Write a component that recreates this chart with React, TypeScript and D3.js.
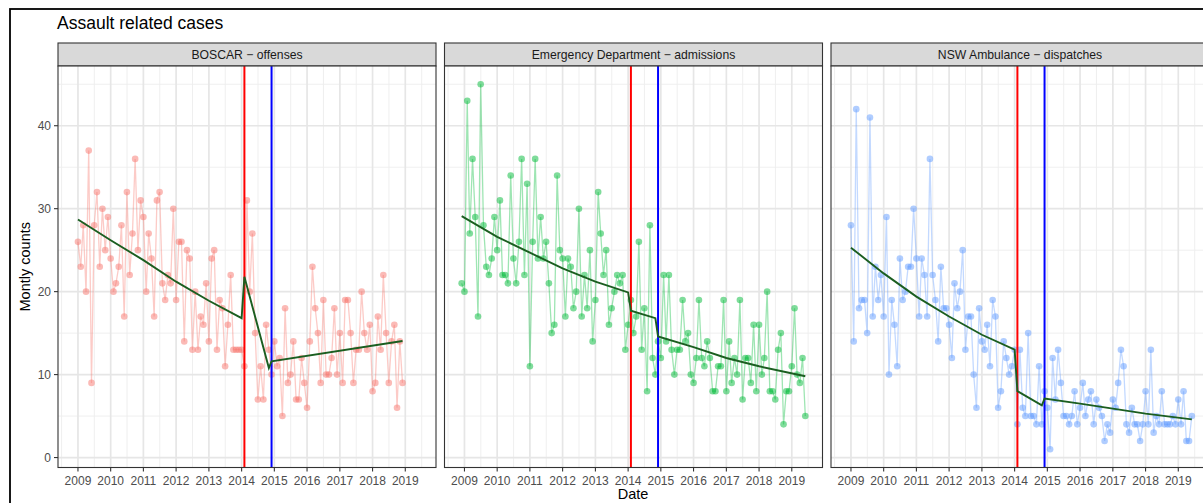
import React from "react";
import * as d3 from "d3";

// Axis labels
const yearLabels = ["2009", "2010", "2011", "2012", "2013", "2014", "2015", "2016", "2017", "2018", "2019"];
const countTicks = [0, 10, 20, 30, 40];

// Facet titles and series colours
const facetTitles = [
  "BOSCAR \u2212 offenses",
  "Emergency Department \u2212 admissions",
  "NSW Ambulance \u2212 dispatches",
];
const facetColours = ["#F8766D", "#00BA38", "#619CFF"];

// Monthly counts, one value per month from the first month given
const boscarFirstMonth = "2009-01";
const boscarCounts = [
  26, 23, 28, 20, 37, 9, 28, 32, 23, 30, 25, 29,
  24, 20, 21, 23, 28, 17, 32, 22, 27, 36, 25, 31,
  29, 20, 27, 24, 17, 31, 32, 21, 19, 22, 21, 30,
  19, 26, 26, 14, 25, 24, 13, 20, 13, 17, 16, 21,
  14, 24, 25, 13, 19, 18, 11, 16, 22, 13, 13, 13,
  13, 11, 31, 20, 27, 15, 7, 11, 7, 16, 13, 10,
  14, 11, 12, 5, 18, 9, 10, 14, 7, 7, 12, 9,
  6, 14, 23, 18, 15, 9, 19, 10, 10, 12, 18, 10,
  15, 9, 19, 19, 15, 9, 13, 13, 20, 15, 13, 16,
  8, 9, 17, 13, 22, 15, 9, 14, 16, 6, 14, 9,
];

const edFirstMonth = "2008-12";
const edCounts = [
  21,
  20, 43, 27, 36, 29, 17, 45, 28, 23, 22, 24, 29,
  25, 31, 22, 22, 21, 34, 24, 21, 26, 36, 22, 33,
  11, 26, 36, 24, 29, 24, 26, 21, 15, 16, 34, 25,
  24, 17, 24, 23, 18, 20, 30, 17, 22, 18, 25, 14,
  19, 32, 27, 22, 25, 16, 18, 20, 22, 21, 22, 13,
  16, 19, 15, 17, 26, 13, 18, 8, 28, 12, 10, 14,
  12, 22, 14, 22, 13, 10, 13, 13, 19, 14, 15, 10,
  9, 12, 19, 12, 11, 14, 12, 8, 8, 11, 11, 19,
  8, 14, 9, 12, 10, 19, 7, 12, 12, 9, 16, 8,
  16, 10, 12, 20, 8, 8, 7, 13, 15, 4, 8, 8,
  11, 18, 10, 9, 12, 5,
];

const nswFirstMonth = "2009-01";
const nswCounts = [
  28, 14, 42, 18, 19, 19, 15, 41, 17, 23, 19, 22,
  17, 29, 10, 19, 16, 11, 24, 19, 20, 23, 23, 30,
  24, 17, 24, 22, 17, 36, 22, 19, 14, 23, 18, 18,
  16, 12, 21, 18, 20, 25, 13, 17, 17, 10, 6, 18,
  14, 13, 16, 11, 19, 17, 6, 8, 14, 12, 10, 11,
  13, 4, 13, 6, 5, 15, 5, 5, 4, 11, 4, 8,
  6, 1, 12, 7, 13, 9, 5, 5, 4, 5, 8, 4,
  6, 9, 5, 7, 8, 4, 7, 6, 5, 2, 4, 3,
  7, 6, 9, 13, 11, 4, 3, 6, 4, 4, 2, 4,
  8, 4, 13, 3, 5, 4, 8, 4, 4, 4, 5, 4,
  7, 4, 8, 2, 2, 5,
];

// Fitted segmented trends (month, fitted count)
const boscarTrend: [string, number][] = [
  ["2009-01", 28.7], ["2010-01", 26.2], ["2011-01", 23.8], ["2012-01", 21.2],
  ["2013-01", 18.9], ["2014-01", 16.8], ["2014-02", 21.8], ["2014-11", 10.8],
  ["2014-12", 11.6], ["2018-12", 14.05],
];
const edTrend: [string, number][] = [
  ["2008-12", 29.1], ["2010-01", 26.6], ["2011-01", 24.7], ["2012-01", 22.8],
  ["2013-01", 21.2], ["2014-01", 19.9], ["2014-02", 17.7], ["2014-11", 16.8],
  ["2014-12", 14.6], ["2016-01", 13.3], ["2017-01", 12.0], ["2018-01", 11.0],
  ["2019-06", 9.8],
];
const nswTrend: [string, number][] = [
  ["2009-01", 25.3], ["2010-01", 22.2], ["2011-01", 19.4], ["2012-01", 17.0],
  ["2013-01", 14.8], ["2014-01", 13.0], ["2014-02", 8.0], ["2014-11", 6.3],
  ["2014-12", 7.1], ["2016-01", 6.5], ["2017-01", 5.9], ["2018-01", 5.3],
  ["2019-06", 4.6],
];

// Intervention dates
const lockoutStart = "2014-02";
const lockoutChange = "2014-12";

const parseMonth = d3.utcParse("%Y-%m")!;

type Pt = { date: Date; value: number };

function monthly(first: string, counts: number[]): Pt[] {
  const d0 = parseMonth(first)!;
  return counts.map((v, i) => ({ date: d3.utcMonth.offset(d0, i), value: v }));
}

const FONT = "'Liberation Sans', Arial, Helvetica, sans-serif";

export default function App() {
  const W = 1203;
  const H = 503;
  const panelW = 378;
  const panelLefts = [58, 444.5, 831];
  const panelTop = 66;
  const panelBottom = 467.5;
  const stripTop = 43;

  const series = [
    monthly(boscarFirstMonth, boscarCounts),
    monthly(edFirstMonth, edCounts),
    monthly(nswFirstMonth, nswCounts),
  ];
  const trends = [boscarTrend, edTrend, nswTrend].map((t) =>
    t.map(([m, v]) => ({ date: parseMonth(m)!, value: v }))
  );

  const all = series.flat();
  const [dMin, dMax] = d3.extent(all, (d) => d.date) as [Date, Date];
  const span = +dMax - +dMin;
  const [vMin, vMax] = d3.extent(all, (d) => d.value) as [number, number];
  const vPad = (vMax - vMin) * 0.05;

  const xBase = d3
    .scaleUtc()
    .domain([new Date(+dMin - span * 0.05), new Date(+dMax + span * 0.05)])
    .range([0, panelW]);
  const y = d3.scaleLinear().domain([vMin - vPad, vMax + vPad]).range([panelBottom, panelTop]);

  const yearDates = yearLabels.map((yr) => d3.utcParse("%Y")(yr)!);
  const xMinor: Date[] = [];
  for (let yr = 2008; yr <= 2020; yr++) {
    const a = +d3.utcParse("%Y")(String(yr))!;
    const b = +d3.utcParse("%Y")(String(yr + 1))!;
    const m = new Date((a + b) / 2);
    if (m >= xBase.domain()[0] && m <= xBase.domain()[1]) xMinor.push(m);
  }
  const yMinor = countTicks
    .map((t) => t + 5)
    .concat([countTicks[0] - 5])
    .filter((v) => v >= y.domain()[0] && v <= y.domain()[1]);

  const line = d3
    .line<Pt>()
    .x((d) => xBase(d.date))
    .y((d) => y(d.value));

  const redX = xBase(parseMonth(lockoutStart)!);
  const blueX = xBase(parseMonth(lockoutChange)!);

  return (
    <div style={{ position: "absolute", left: 0, top: 0, width: W, height: H, overflow: "hidden", background: "#fff" }}>
      <svg width={W} height={H} style={{ display: "block", fontFamily: FONT }}>
        <rect x={0} y={0} width={W} height={H} fill="#ffffff" />
        {/* frame around the figure */}
        <rect x={10} y={9} width={W + 40} height={H + 40} fill="none" stroke="#000" strokeWidth={1.8} />
        <text x={57} y={29} fontSize={17.5} fill="#000">
          Assault related cases
        </text>

        {series.map((pts, k) => {
          const left = panelLefts[k];
          const colour = facetColours[k];
          return (
            <g key={k} transform={`translate(${left},0)`}>
              {/* strip */}
              <rect
                x={0}
                y={stripTop}
                width={panelW}
                height={panelTop - stripTop}
                fill="#D9D9D9"
                stroke="#333333"
                strokeWidth={1.1}
              />
              <text
                x={panelW / 2}
                y={(stripTop + panelTop) / 2 + 4.3}
                textAnchor="middle"
                fontSize={12.2}
                fill="#1A1A1A"
              >
                {facetTitles[k]}
              </text>

              {/* panel background and grid */}
              <rect x={0} y={panelTop} width={panelW} height={panelBottom - panelTop} fill="#fff" />
              {yMinor.map((v) => (
                <line key={"ym" + v} x1={0} x2={panelW} y1={y(v)} y2={y(v)} stroke="#EDEDED" strokeWidth={0.9} />
              ))}
              {xMinor.map((d, i) => (
                <line key={"xm" + i} x1={xBase(d)} x2={xBase(d)} y1={panelTop} y2={panelBottom} stroke="#EDEDED" strokeWidth={0.9} />
              ))}
              {countTicks.map((v) => (
                <line key={"yM" + v} x1={0} x2={panelW} y1={y(v)} y2={y(v)} stroke="#E6E6E6" strokeWidth={1.7} />
              ))}
              {yearDates.map((d, i) => (
                <line key={"xM" + i} x1={xBase(d)} x2={xBase(d)} y1={panelTop} y2={panelBottom} stroke="#E6E6E6" strokeWidth={1.7} />
              ))}

              {/* observed monthly counts */}
              <path d={line(pts) ?? ""} fill="none" stroke={colour} strokeOpacity={0.38} strokeWidth={1.3} />
              {pts.map((p, i) => (
                <circle key={i} cx={xBase(p.date)} cy={y(p.value)} r={3.3} fill={colour} fillOpacity={0.5} />
              ))}

              {/* intervention dates */}
              <line x1={redX} x2={redX} y1={panelTop} y2={panelBottom} stroke="#FF0000" strokeWidth={2} />
              <line x1={blueX} x2={blueX} y1={panelTop} y2={panelBottom} stroke="#0000FF" strokeWidth={2} />

              {/* fitted trend */}
              <path d={line(trends[k]) ?? ""} fill="none" stroke="#1B5E20" strokeWidth={1.9} />

              {/* panel border */}
              <rect x={0} y={panelTop} width={panelW} height={panelBottom - panelTop} fill="none" stroke="#333333" strokeWidth={1.1} />

              {/* x axis */}
              {yearDates.map((d, i) => (
                <g key={"xt" + i} transform={`translate(${xBase(d)},${panelBottom})`}>
                  <line y1={0} y2={4} stroke="#333333" strokeWidth={1.1} />
                  <text y={17} textAnchor="middle" fontSize={12} fill="#4D4D4D">
                    {yearLabels[i]}
                  </text>
                </g>
              ))}

              {/* y axis on the first facet only */}
              {k === 0 &&
                countTicks.map((v) => (
                  <g key={"yt" + v} transform={`translate(0,${y(v)})`}>
                    <line x1={-4} x2={0} stroke="#333333" strokeWidth={1.1} />
                    <text x={-7} y={4.2} textAnchor="end" fontSize={12} fill="#4D4D4D">
                      {v}
                    </text>
                  </g>
                ))}
            </g>
          );
        })}

        {/* axis titles */}
        <text x={633} y={499} textAnchor="middle" fontSize={14.5} fill="#000">
          Date
        </text>
        <text
          transform={`translate(30,${(panelTop + panelBottom) / 2}) rotate(-90)`}
          textAnchor="middle"
          fontSize={14.5}
          fill="#000"
        >
          Montly counts
        </text>
      </svg>
    </div>
  );
}
